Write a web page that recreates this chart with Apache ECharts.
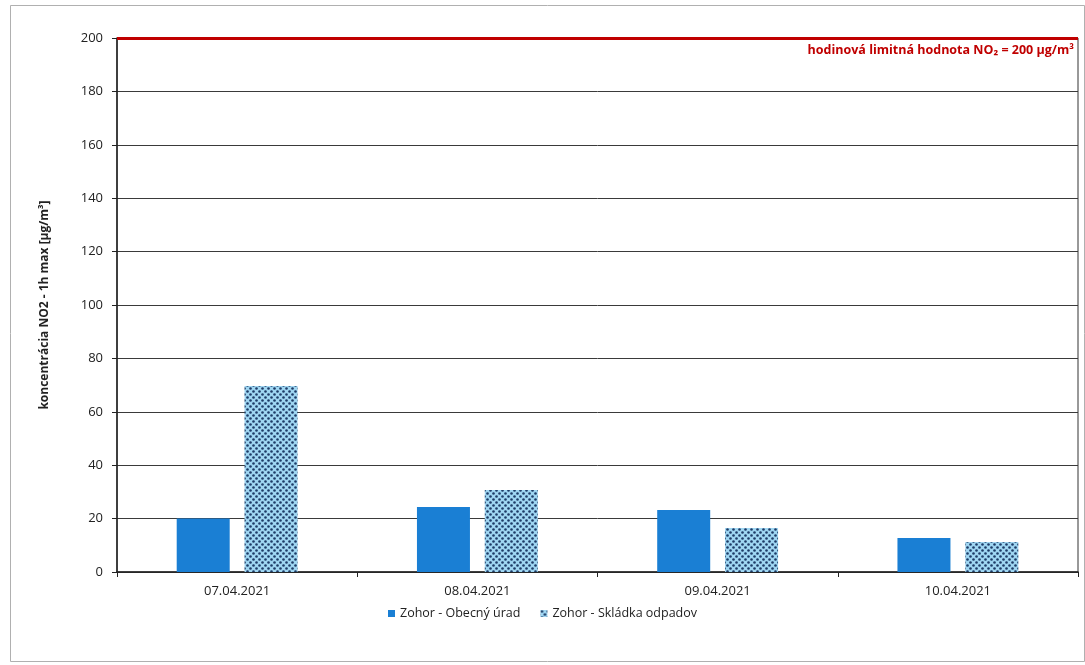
<!DOCTYPE html>
<html>
<head>
<meta charset="utf-8">
<script src="https://cdn.jsdelivr.net/npm/echarts@6/dist/echarts.min.js"></script>
<style>html,body{margin:0;padding:0;background:#fff}#c{width:1085px;height:665px}</style>
</head>
<body>
<div id="c"></div>
<script>
var categories = ['07.04.2021', '08.04.2021', '09.04.2021', '10.04.2021'];
var obecnyUrad = [20, 24.3, 23.2, 12.7];
var skladka = [69.7, 30.7, 16.5, 11.2];
var limitValue = 200;
var yTicks = [0, 20, 40, 60, 80, 100, 120, 140, 160, 180, 200];

function makePattern() {
  var c = document.createElement('canvas');
  c.width = 6; c.height = 6;
  var ctx = c.getContext('2d');
  ctx.fillStyle = '#9fd6f2';
  ctx.fillRect(0, 0, 6, 6);
  ctx.fillStyle = '#1d3b66';
  var pts = [[1.5, 1.5], [4.5, 4.5]];
  pts.forEach(function (p) {
    ctx.beginPath(); ctx.arc(p[0], p[1], 1.3, 0, Math.PI * 2); ctx.fill();
  });
  return c;
}
var pat = makePattern();

var chart = echarts.init(document.getElementById('c'));
var font = 'Open Sans';
chart.setOption({
  animation: false,
  backgroundColor: '#fff',
  textStyle: { fontFamily: font },
  graphic: [{
    type: 'rect', left: 8, top: 3, shape: { width: 1074, height: 656 },
    style: { fill: 'none', stroke: '#b0b0b0', lineWidth: 1 }, silent: true
  }],
  grid: { left: 117, right: 7, top: 38, bottom: 93, show: true, borderColor: '#333', borderWidth: 1, backgroundColor: 'transparent' },
  legend: {
    bottom: 40, left: 'center',
    itemWidth: 7, itemHeight: 7, itemGap: 20,
    textStyle: { fontSize: 12.5, color: '#222', fontFamily: font },
    data: [
      { name: 'Zohor - Obecný úrad', icon: 'rect' },
      { name: 'Zohor - Skládka odpadov', icon: 'rect' }
    ]
  },
  xAxis: {
    type: 'category', data: categories,
    axisLine: { lineStyle: { color: '#222', width: 1.5 } },
    axisTick: { show: true, length: 5, lineStyle: { color: '#222' } },
    axisLabel: { color: '#222', fontSize: 13, margin: 13 }
  },
  yAxis: {
    type: 'value', min: 0, max: 200, interval: 20,
    name: 'koncentrácia NO2 - 1h max [µg/m³]',
    nameLocation: 'middle', nameGap: 66, nameRotate: 90,
    nameTextStyle: { fontSize: 12, fontWeight: 'bold', color: '#222' },
    axisLine: { show: true, lineStyle: { color: '#222', width: 1.5 } },
    axisTick: { show: true, length: 5, lineStyle: { color: '#222' } },
    axisLabel: { color: '#222', fontSize: 13, margin: 14 },
    splitLine: { lineStyle: { color: '#3a3a3a', width: 1 } }
  },
  series: [
    {
      name: 'Zohor - Obecný úrad', type: 'bar', data: obecnyUrad,
      barWidth: 53, barGap: '28%',
      itemStyle: { color: '#1a7fd4' },
      markLine: {
        silent: true, symbol: 'none',
        data: [{ yAxis: limitValue }],
        lineStyle: { color: '#c00000', width: 3, type: 'solid' },
        label: {
          position: 'insideEndBottom', distance: [4, 6],
          formatter: 'hodinová limitná hodnota NO₂ = 200 µg/m³',
          color: '#c00000', fontWeight: 'bold', fontSize: 12.5, fontFamily: font
        }
      }
    },
    {
      name: 'Zohor - Skládka odpadov', type: 'bar', data: skladka,
      barWidth: 53,
      itemStyle: { color: { image: pat, repeat: 'repeat' } }
    }
  ]
});
</script>
</body>
</html>
